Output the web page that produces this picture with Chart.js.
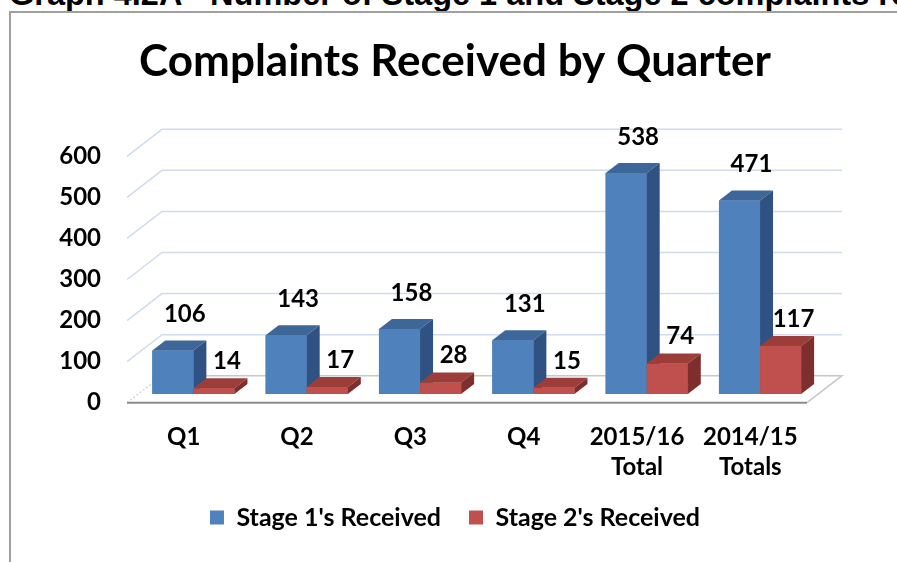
<!DOCTYPE html>
<html>
<head>
<meta charset="utf-8">
<script src="https://cdn.jsdelivr.net/npm/chart.js@4.4.1/dist/chart.umd.min.js"></script>
<style>
  html, body { margin: 0; padding: 0; background: #ffffff; width: 897px; height: 562px; overflow: hidden; }
  #heading { position: absolute; left: 9px; top: -22.5px; font: bold 32.5px "Liberation Sans", Arial, sans-serif; line-height: 32.5px; white-space: nowrap; color: #000; }
  #box { position: absolute; left: 9px; top: 11px; width: 1000px; height: 700px; border: 2px solid #a0a0a0; box-sizing: border-box; }
  #wrap { position: absolute; left: 0; top: 0; width: 910px; height: 562px; }
</style>
</head>
<body>
<div id="heading">Graph 4.2A - Number of Stage 1 and Stage 2 complaints received</div>
<div id="box"></div>
<div id="wrap"><canvas id="chart"></canvas></div>
<script>
// ---- data ----
const chartTitle = 'Complaints Received by Quarter';
const categories = [['Q1'], ['Q2'], ['Q3'], ['Q4'], ['2015/16', 'Total'], ['2014/15', 'Totals']];
const seriesNames = ["Stage 1's Received", "Stage 2's Received"];
const stage1Received = [106, 143, 158, 131, 538, 471];
const stage2Received = [14, 17, 28, 15, 74, 117];
const yTickValues = [0, 100, 200, 300, 400, 500, 600];

// ---- styles ----
const FONT = 'Lato, "Noto Sans", sans-serif';
const FRONT = { dx: -9.7, dy: 8.7 };   // front edge of floor relative to bar plane
const BACK = { dx: 25.3, dy: -18.3 };  // back wall relative to bar plane
const BAR_D = { dx: 13, dy: -10 };     // bar depth
const faceColors = [
  { front: '#4F81BD', top: '#3E6799', side: '#2F5282' },
  { front: '#C0504D', top: '#9D3D3A', side: '#7E2E2C' }
];
const labelOffsets = [{ dx: 12, dy: -36 }, { dx: 13, dy: -27 }];

const threeD = {
  id: 'threeD',
  beforeDatasetsDraw(chart) {
    const { ctx, chartArea: a, scales: { y } } = chart;
    ctx.save();
    const y0 = y.getPixelForValue(0);
    ctx.beginPath();
    ctx.moveTo(a.left + FRONT.dx, y0 + FRONT.dy);
    ctx.lineTo(a.right + FRONT.dx, y0 + FRONT.dy);
    ctx.lineTo(a.right + BACK.dx, y0 + BACK.dy);
    ctx.lineTo(a.left + BACK.dx, y0 + BACK.dy);
    ctx.closePath();
    ctx.fillStyle = '#ffffff';
    ctx.fill();
    ctx.lineWidth = 1.5;
    yTickValues.forEach(v => {
      if (v === 0) return;
      const p = y.getPixelForValue(v);
      ctx.strokeStyle = '#d0dcec';
      ctx.beginPath();
      ctx.moveTo(a.left + FRONT.dx, p + FRONT.dy);
      ctx.lineTo(a.left + BACK.dx, p + BACK.dy);
      ctx.lineTo(a.right + BACK.dx, p + BACK.dy);
      ctx.stroke();
    });
    ctx.strokeStyle = '#c8c8c8';
    ctx.lineWidth = 1.5;
    ctx.beginPath();
    ctx.moveTo(a.left + BACK.dx, y0 + BACK.dy);
    ctx.lineTo(a.right + BACK.dx, y0 + BACK.dy);
    ctx.lineTo(a.right + FRONT.dx, y0 + FRONT.dy);
    ctx.stroke();
    ctx.setLineDash([2, 2]);
    ctx.strokeStyle = '#d6d6d6';
    ctx.beginPath();
    ctx.moveTo(a.left + FRONT.dx, y0 + FRONT.dy);
    ctx.lineTo(a.left + BACK.dx, y0 + BACK.dy);
    ctx.stroke();
    ctx.setLineDash([]);
    ctx.strokeStyle = '#8c8c8c';
    ctx.lineWidth = 2;
    ctx.beginPath();
    ctx.moveTo(a.left + FRONT.dx, y0 + FRONT.dy);
    ctx.lineTo(a.right + FRONT.dx, y0 + FRONT.dy);
    ctx.stroke();
    ctx.restore();
  },
  afterDatasetsDraw(chart) {
    const { ctx } = chart;
    ctx.save();
    chart.data.datasets.forEach((ds, di) => {
      const meta = chart.getDatasetMeta(di);
      const c = faceColors[di];
      meta.data.forEach(bar => {
        bar.draw(ctx);
        const { x, y, base, width } = bar.getProps(['x', 'y', 'base', 'width'], true);
        const l = x - width / 2, r = x + width / 2;
        ctx.fillStyle = c.top;
        ctx.beginPath();
        ctx.moveTo(l, y);
        ctx.lineTo(l + BAR_D.dx, y + BAR_D.dy);
        ctx.lineTo(r + BAR_D.dx, y + BAR_D.dy);
        ctx.lineTo(r, y);
        ctx.closePath();
        ctx.fill();
        ctx.fillStyle = c.side;
        ctx.beginPath();
        ctx.moveTo(r, y);
        ctx.lineTo(r + BAR_D.dx, y + BAR_D.dy);
        ctx.lineTo(r + BAR_D.dx, base + BAR_D.dy);
        ctx.lineTo(r, base);
        ctx.closePath();
        ctx.fill();
      });
    });
    ctx.font = 'bold 24px ' + FONT;
    ctx.fillStyle = '#000';
    ctx.textAlign = 'center';
    ctx.textBaseline = 'middle';
    chart.data.datasets.forEach((ds, di) => {
      const meta = chart.getDatasetMeta(di);
      meta.data.forEach((bar, i) => {
        const { x, y } = bar.getProps(['x', 'y'], true);
        ctx.fillText(String(ds.data[i]), x + labelOffsets[di].dx, y + labelOffsets[di].dy);
      });
    });
    ctx.restore();
  }
};

const CANVAS_W = 910, PLOT_LEFT = 136.7, PLOT_RIGHT = 816.7;

new Chart(document.getElementById('chart'), {
  type: 'bar',
  data: {
    labels: categories,
    datasets: [
      { label: seriesNames[0], data: stage1Received, backgroundColor: faceColors[0].front },
      { label: seriesNames[1], data: stage2Received, backgroundColor: faceColors[1].front }
    ]
  },
  options: {
    responsive: true,
    maintainAspectRatio: false,
    animation: false,
    events: [],
    layout: { padding: { left: 0, right: 0, top: 0, bottom: 22 } },
    datasets: { bar: { categoryPercentage: 0.725, barPercentage: 1 } },
    scales: {
      x: {
        grid: { display: false, drawTicks: false },
        border: { display: false },
        ticks: { color: '#000', font: { family: FONT, size: 24, weight: 'bold', lineHeight: 1.25 }, labelOffset: -9.7, padding: 28, maxRotation: 0, autoSkip: false },
        afterFit(s) { s.height = 83; }
      },
      y: {
        position: 'left',
        min: 0, max: 600,
        grid: { display: false, drawTicks: false },
        border: { display: false },
        ticks: { stepSize: 100, color: '#000', font: { family: FONT, size: 24, weight: 'bold' }, labelOffset: 8.7, padding: 35.7 },
        afterFit(s) { s.width = PLOT_LEFT; }
      },
      yRight: {
        position: 'right',
        min: 0, max: 600,
        grid: { display: false, drawTicks: false },
        border: { display: false },
        ticks: { display: false },
        afterFit(s) { s.width = CANVAS_W - PLOT_RIGHT; }
      }
    },
    plugins: {
      title: { display: true, text: chartTitle, color: '#000', font: { family: FONT, size: 44, weight: 'bold', lineHeight: 1.2 }, padding: { top: 35.8, bottom: 59 } },
      legend: {
        position: 'bottom',
        labels: { color: '#000', font: { family: FONT, size: 25, weight: 'bold' }, boxWidth: 14, boxHeight: 14, padding: 28 }
      },
      tooltip: { enabled: false }
    }
  },
  plugins: [threeD]
});
</script>
</body>
</html>
